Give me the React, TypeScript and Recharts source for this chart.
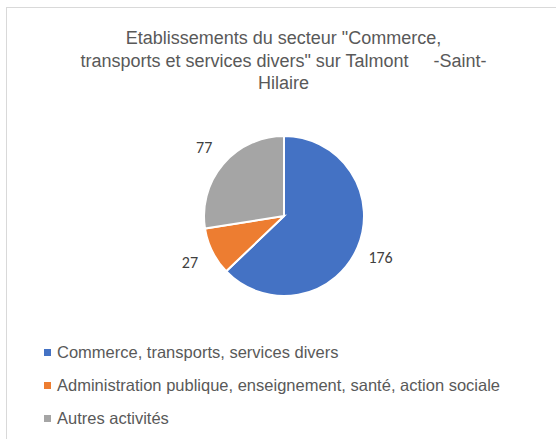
import { PieChart, Pie, Cell } from 'recharts';

const categories = [
  'Commerce, transports, services divers',
  'Administration publique, enseignement, santé, action sociale',
  'Autres activités',
];
const counts = [176, 27, 77];
const colors = ['#4472C4', '#ED7D31', '#A5A5A5'];
const titleLines = [
  'Etablissements du secteur "Commerce,',
  'transports et services divers" sur Talmont     -Saint-',
  'Hilaire',
];

const data = categories.map((name, i) => ({ name, value: counts[i] }));

const RAD = Math.PI / 180;

const renderLabel = (props: any) => {
  const { cx, cy, midAngle, outerRadius, value } = props;
  const r = outerRadius + 25;
  const x = cx + r * Math.cos(-midAngle * RAD);
  const y = cy + r * Math.sin(-midAngle * RAD);
  return (
    <text
      x={x}
      y={y}
      textAnchor="middle"
      dominantBaseline="central"
      fill="#404040"
      fontSize={16}
      fontFamily="Carlito, 'Liberation Sans', sans-serif"
    >
      {value}
    </text>
  );
};

export default function App() {
  return (
    <div
      style={{
        position: 'absolute',
        left: 0,
        top: 0,
        width: 556,
        height: 439,
        background: '#fff',
        fontFamily: "'Liberation Sans', Arial, sans-serif",
        overflow: 'hidden',
      }}
    >
      <div
        style={{
          position: 'absolute',
          left: 6,
          top: 7,
          width: 560,
          height: 450,
          border: '1px solid #D9D9D9',
          boxSizing: 'border-box',
        }}
      />
      <div
        style={{
          position: 'absolute',
          left: 0,
          top: 27,
          width: 567,
          textAlign: 'center',
          color: '#595959',
          fontSize: 18,
          lineHeight: '22.5px',
        }}
      >
        {titleLines.map((l, i) => (
          <div key={i} style={{ whiteSpace: 'pre' }}>{l}</div>
        ))}
      </div>
      <div style={{ position: 'absolute', left: 0, top: 0 }}>
        <PieChart width={556} height={439}>
          <Pie
            data={data}
            dataKey="value"
            nameKey="name"
            cx={279}
            cy={211}
            outerRadius={80}
            startAngle={90}
            endAngle={-270}
            stroke="#fff"
            strokeWidth={2}
            label={renderLabel}
            labelLine={false}
            isAnimationActive={false}
          >
            {data.map((d, i) => (
              <Cell key={d.name} fill={colors[i]} />
            ))}
          </Pie>
        </PieChart>
      </div>
      <div style={{ position: 'absolute', left: 44, top: 336 }}>
        {categories.map((c, i) => (
          <div key={c} style={{ display: 'flex', alignItems: 'center', height: 33 }}>
            <span
              style={{
                width: 7,
                height: 7,
                background: colors[i],
                marginRight: 6,
                display: 'inline-block',
              }}
            />
            <span style={{ color: '#595959', fontSize: 16.5 }}>{c}</span>
          </div>
        ))}
      </div>
    </div>
  );
}
